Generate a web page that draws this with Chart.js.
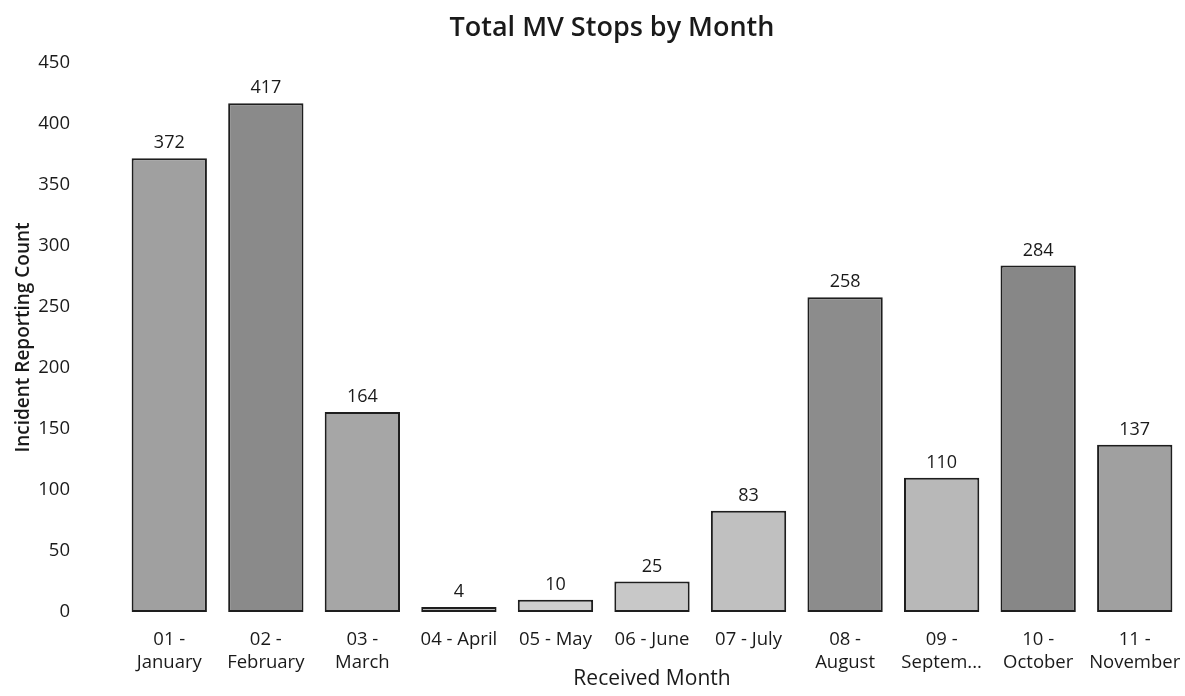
<!DOCTYPE html>
<html>
<head>
<meta charset="utf-8">
<script src="https://cdn.jsdelivr.net/npm/chart.js@4"></script>
<style>
  html, body { margin: 0; padding: 0; background: #fff; }
  #wrap { width: 1185px; height: 696px; }
</style>
</head>
<body>
<div id="wrap"><canvas id="graficoParadas"></canvas></div>
<script>
// datos
const meses = [
  ['01 -', 'January'], ['02 -', 'February'], ['03 -', 'March'], '04 - April', '05 - May',
  '06 - June', '07 - July', ['08 -', 'August'], ['09 -', 'Septem...'], ['10 -', 'October'], ['11 -', 'November']
];
const paradas = [372, 417, 164, 4, 10, 25, 83, 258, 110, 284, 137];
const ticksY = [0, 50, 100, 150, 200, 250, 300, 350, 400, 450];

const grises = ['#a0a0a0', '#8a8a8a', '#a6a6a6', '#b4b4b4', '#cfcfcf', '#c8c8c8',
  '#c0c0c0', '#8c8c8c', '#b8b8b8', '#878787', '#a0a0a0'];

const FUENTE = "'Open Sans', sans-serif";

// titulo dibujado a mano para poder centrarlo donde esta en la imagen
const tituloPlugin = {
  id: 'tituloPlugin',
  afterDraw(chart) {
    const c = chart.ctx;
    c.save();
    c.font = '600 27px ' + FUENTE;
    c.fillStyle = '#1a1a1a';
    c.textAlign = 'center';
    c.textBaseline = 'alphabetic';
    c.fillText('Total MV Stops by Month', 612, 36);
    c.restore();
  }
};

// etiquetas de valor encima de cada barra
const etiquetasPlugin = {
  id: 'etiquetasPlugin',
  afterDatasetsDraw(chart) {
    const c = chart.ctx;
    const meta = chart.getDatasetMeta(0);
    c.save();
    c.font = '18px ' + FUENTE;
    c.fillStyle = '#1a1a1a';
    c.textAlign = 'center';
    c.textBaseline = 'alphabetic';
    meta.data.forEach((bar, i) => {
      c.fillText(String(chart.data.datasets[0].data[i]), bar.x, bar.y - 10);
    });
    c.restore();
  }
};

new Chart(document.getElementById('graficoParadas'), {
  type: 'bar',
  data: {
    labels: meses,
    datasets: [{
      label: 'Incident Reporting Count',
      data: paradas,
      backgroundColor: grises,
      borderColor: '#1e1e1e',
      borderWidth: 2,
      borderSkipped: false,
      categoryPercentage: 1,
      barPercentage: 0.78
    }]
  },
  options: {
    responsive: true,
    maintainAspectRatio: false,
    animation: false,
    layout: { padding: { top: 63, right: 2, left: 0, bottom: 0 } },
    plugins: {
      legend: { display: false },
      tooltip: { enabled: false }
    },
    scales: {
      x: {
        grid: { display: false, drawTicks: false },
        border: { display: false },
        ticks: {
          color: '#1a1a1a',
          font: { family: FUENTE, size: 18.5 },
          padding: 17,
          maxRotation: 0,
          autoSkip: false
        },
        title: {
          display: true,
          text: 'Received Month',
          color: '#1a1a1a',
          font: { family: FUENTE, size: 21 },
          padding: { top: 2, bottom: 4 }
        },
        afterFit(s) {
          s.height = 84;
          // sin relleno extra por la etiqueta "November"
          s.paddingLeft = 0;
          s.paddingRight = 0;
        }
      },
      y: {
        min: 0,
        max: 450,
        afterBuildTicks(s) { s.ticks = ticksY.map(v => ({ value: v })); },
        grid: { display: false, drawTicks: false },
        border: { display: false },
        ticks: {
          color: '#1a1a1a',
          font: { family: FUENTE, size: 18.5 },
          padding: 51
        },
        title: {
          display: true,
          text: 'Incident Reporting Count',
          color: '#1a1a1a',
          font: { family: FUENTE, size: 19, weight: '600' },
          padding: { top: 12, bottom: 0 }
        },
        afterFit(s) { s.width = 121; }
      }
    }
  },
  plugins: [tituloPlugin, etiquetasPlugin]
});
</script>
</body>
</html>
